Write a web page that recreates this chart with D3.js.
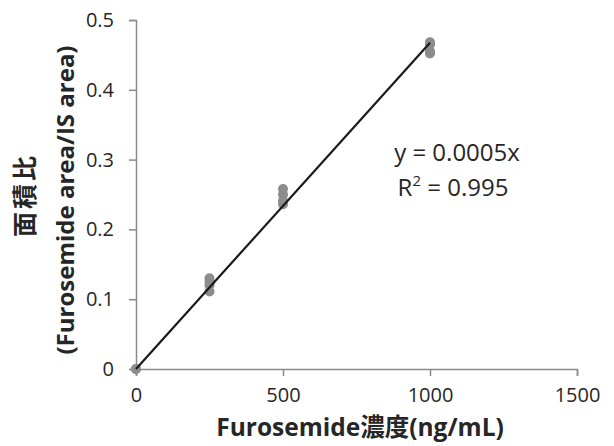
<!DOCTYPE html>
<html>
<head>
<meta charset="utf-8">
<script src="https://cdn.jsdelivr.net/npm/d3@7"></script>
<style>
  html, body { margin: 0; padding: 0; background: #fff; }
  svg { display: block; }
  text { font-family: "Open Sans", "Noto Sans CJK JP", sans-serif; fill: #262626; }
</style>
</head>
<body>
<svg id="chart" width="614" height="446"></svg>
<script>
// Calibration data: concentration (ng/mL) and peak-area ratio
const concentrations = [0, 0, 250, 250, 250, 250, 500, 500, 500, 500, 1000, 1000, 1000, 1000];
const areaRatios     = [0, 0, 0.130, 0.125, 0.120, 0.111, 0.258, 0.250, 0.241, 0.236, 0.468, 0.465, 0.455, 0.452];

const xTicks = [0, 500, 1000, 1500];
const yTicks = [0, 0.1, 0.2, 0.3, 0.4, 0.5];
const rSquaredLabel = "0.995";

const xTitle = "Furosemide濃度(ng/mL)";
const yTitleLines = ["面積比", "(Furosemide area/IS area)"];

const svg = d3.select("#chart");

const x = d3.scaleLinear().domain([0, 1500]).range([136, 577]);
const y = d3.scaleLinear().domain([0, 0.5]).range([369, 20]);

// Least-squares slope of a line through the origin
const slope = d3.sum(concentrations, (c, i) => c * areaRatios[i]) / d3.sum(concentrations, c => c * c);

// Axes
const xAxis = svg.append("g")
  .attr("transform", `translate(0,${y(0)})`)
  .call(d3.axisBottom(x).tickValues(xTicks).tickFormat(d3.format("d")).tickSize(7).tickPadding(9));
const yAxis = svg.append("g")
  .attr("transform", `translate(${x(0)},0)`)
  .call(d3.axisLeft(y).tickValues(yTicks).tickFormat(d => d === 0 ? "0" : d3.format(".1f")(d)).tickSize(7).tickPadding(15));

[xAxis, yAxis].forEach(g => {
  g.select(".domain").attr("stroke", "#8a8a8a").attr("stroke-width", 1.5);
  g.selectAll(".tick line").attr("stroke", "#8a8a8a").attr("stroke-width", 1.5);
  g.selectAll(".tick text").attr("font-size", 20).attr("fill", "#262626")
    .style("font-family", '"Open Sans", sans-serif');
});
xAxis.selectAll(".tick text").attr("dy", "0.85em");

// Data points
svg.append("g").selectAll("circle")
  .data(concentrations.map((c, i) => [c, areaRatios[i]]))
  .join("circle")
  .attr("cx", d => x(d[0]))
  .attr("cy", d => y(d[1]))
  .attr("r", 5)
  .attr("fill", "#8c8c8c");

// Linear trendline over the data range
const xMax = d3.max(concentrations);
svg.append("line")
  .attr("x1", x(0)).attr("y1", y(0))
  .attr("x2", x(xMax)).attr("y2", y(slope * xMax))
  .attr("stroke", "#1a1a1a")
  .attr("stroke-width", 2.2);

// Regression equation
const eq = svg.append("g").attr("font-size", 24).attr("text-anchor", "middle");
eq.append("text").attr("x", 457).attr("y", 161).text(`y = ${slope.toFixed(4)}x`);
const r2 = eq.append("text").attr("x", 453).attr("y", 196);
r2.append("tspan").text("R");
r2.append("tspan").attr("font-size", 15).attr("dy", -10).text("2");
r2.append("tspan").attr("dy", 10).text(` = ${rSquaredLabel}`);

// Axis titles
svg.append("text")
  .attr("x", 360).attr("y", 436)
  .attr("text-anchor", "middle")
  .attr("font-size", 24.5).attr("font-weight", "bold")
  .text(xTitle);

// Two-line rotated y title
const yTitlePos = [{ x: 34, y: 195, size: 25, spacing: 3 }, { x: 74, y: 200, size: 24, spacing: 0 }];
yTitleLines.forEach((line, i) => {
  const p = yTitlePos[i];
  svg.append("text")
    .attr("transform", `translate(${p.x},${p.y}) rotate(-90)`)
    .attr("text-anchor", "middle")
    .attr("font-size", p.size).attr("font-weight", "bold")
    .attr("letter-spacing", p.spacing)
    .text(line);
});
</script>
</body>
</html>
